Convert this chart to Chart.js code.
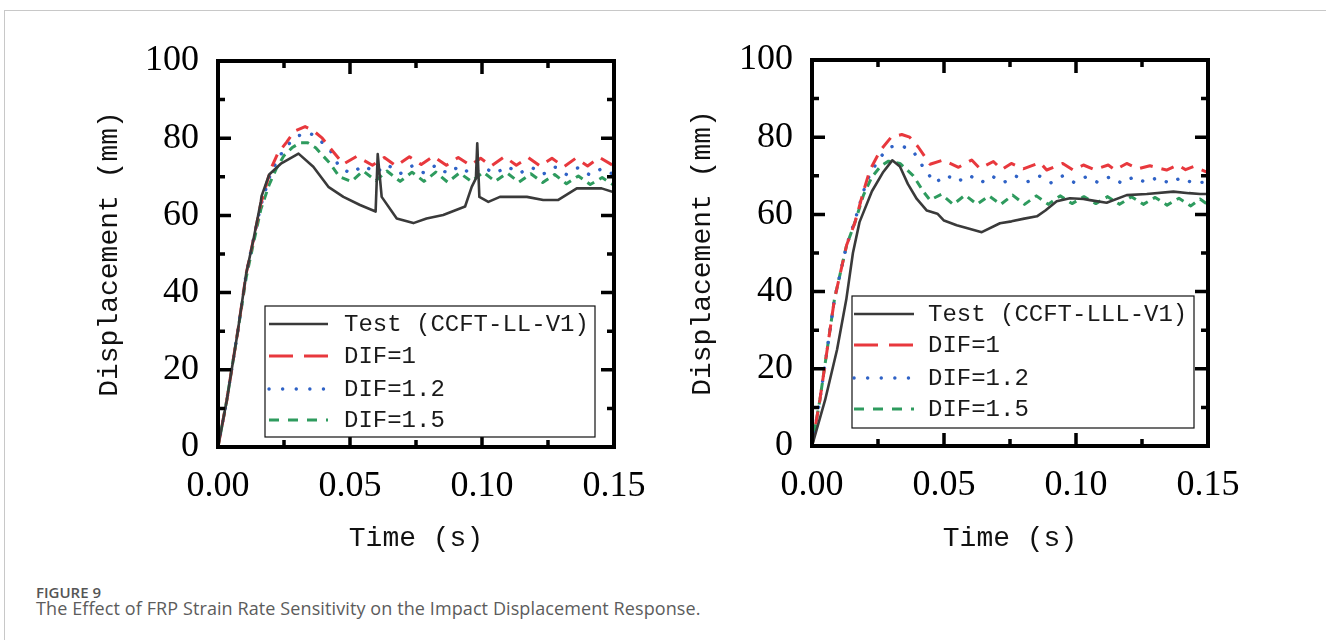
<!DOCTYPE html>
<html><head><meta charset="utf-8">
<script src="https://cdn.jsdelivr.net/npm/chart.js@4.4.1/dist/chart.umd.min.js"></script>
<style>
html,body{margin:0;padding:0;background:#fff;width:1326px;height:640px;overflow:hidden;position:relative;}
#frame{position:absolute;left:4px;top:10px;width:1340px;height:660px;border-top:1px solid #c8c8c8;border-left:1px solid #c8c8c8;}
.wrap{position:absolute;top:0;width:663px;height:580px;}
#capA{position:absolute;left:36px;top:582px;font:600 15px "Open Sans";color:#555;white-space:nowrap;}
#capB{position:absolute;left:36px;top:596px;font:400 18px "Open Sans";color:#5c5c5c;white-space:nowrap;letter-spacing:0.1px;}
</style></head>
<body>
<div id="frame"></div>
<div class="wrap" style="left:0"><canvas id="cL" width="663" height="580"></canvas></div>
<div class="wrap" style="left:663px"><canvas id="cR" width="663" height="580"></canvas></div>
<div id="capA">FIGURE 9</div>
<div id="capB">The Effect of FRP Strain Rate Sensitivity on the Impact Displacement Response.</div>
<script>
// ---------- tick labels ----------
const timeTicks = [0, 0.05, 0.10, 0.15];
const timeMinor = [0.025, 0.075, 0.125];
const dispTicks = [0, 20, 40, 60, 80, 100];
const dispMinor = [10, 30, 50, 70, 90];
const xTitle = 'Time (s)';
const yTitle = 'Displacement (mm)';
const seriesNamesL = ['Test (CCFT-LL-V1)', 'DIF=1', 'DIF=1.2', 'DIF=1.5'];
const seriesNamesR = ['Test (CCFT-LLL-V1)', 'DIF=1', 'DIF=1.2', 'DIF=1.5'];

// ---------- left panel data ----------
const testL_t = [0, 0.0033, 0.0075, 0.0107, 0.0135, 0.0162, 0.0165, 0.0194, 0.024, 0.0305, 0.0361, 0.0418, 0.0475, 0.0538, 0.0597, 0.0605, 0.062, 0.0677, 0.074, 0.079, 0.0853, 0.0936, 0.0961, 0.0977, 0.0982, 0.099, 0.1024, 0.1068, 0.117, 0.1232, 0.1289, 0.1359, 0.1453, 0.15];
const testL_d = [0, 12, 30, 45, 54, 63.5, 65, 70.6, 73.5, 76, 72.6, 67.4, 64.8, 62.7, 61, 75.9, 64.8, 59.2, 58, 59.2, 60.1, 62.3, 67.4, 69.6, 78.7, 64.8, 63.5, 64.8, 64.8, 64, 64, 67, 67, 66];

const dif1L_t = [0, 0.0033, 0.0075, 0.0107, 0.0135, 0.0162, 0.02, 0.0226, 0.026, 0.029, 0.033, 0.036, 0.0395, 0.0424, 0.0475, 0.0525, 0.0585, 0.063, 0.0675, 0.0725, 0.077, 0.0815, 0.0865, 0.091, 0.0955, 0.0995, 0.1035, 0.1085, 0.113, 0.1175, 0.122, 0.1265, 0.131, 0.1355, 0.14, 0.1445, 0.15];
const dif1L_d = [0, 12, 30, 45, 54, 63, 72, 76, 79, 81.8, 83, 82, 80, 77.5, 73.3, 75.3, 73.0, 75.0, 72.8, 75.2, 73.2, 75.3, 73.0, 75.0, 73.0, 74.8, 72.8, 75.2, 73.0, 75.0, 72.8, 74.8, 72.6, 74.8, 72.8, 75.0, 72.8];

const dif12L_t = [0, 0.0033, 0.0075, 0.0107, 0.0135, 0.0162, 0.02, 0.023, 0.026, 0.03, 0.034, 0.037, 0.0424, 0.046, 0.0505, 0.055, 0.0598, 0.064, 0.069, 0.0735, 0.078, 0.0825, 0.087, 0.0915, 0.096, 0.1005, 0.105, 0.1095, 0.114, 0.1185, 0.123, 0.1275, 0.132, 0.1365, 0.141, 0.1455, 0.15];
const dif12L_d = [0, 12, 30, 45, 54, 62.5, 71, 75, 78, 80.5, 81.5, 80.5, 77, 72.5, 70.8, 73.0, 71.0, 73.2, 70.8, 72.8, 71.0, 73.0, 70.8, 72.8, 70.6, 72.5, 70.8, 72.8, 70.8, 72.6, 70.6, 72.6, 70.6, 72.4, 70.4, 72.2, 70.5];

const dif15L_t = [0, 0.0033, 0.0075, 0.0107, 0.0135, 0.0162, 0.0194, 0.022, 0.025, 0.028, 0.031, 0.034, 0.037, 0.0424, 0.046, 0.0505, 0.055, 0.0598, 0.064, 0.069, 0.0735, 0.078, 0.0825, 0.087, 0.0915, 0.096, 0.1005, 0.105, 0.1095, 0.114, 0.1185, 0.123, 0.1275, 0.132, 0.1365, 0.141, 0.1455, 0.15];
const dif15L_d = [0, 12, 30, 44, 53, 61.5, 68, 72, 75.5, 77.5, 78.8, 78.8, 77.5, 73.5, 70, 68.8, 71.5, 69, 71.5, 68.8, 71.2, 68.8, 71.2, 68.6, 71, 68.8, 71.2, 68.8, 71, 68.6, 70.8, 68.5, 70.6, 68.2, 70.2, 68, 69.8, 67.8];

// ---------- right panel data ----------
const testR_t = [0, 0.005, 0.0095, 0.013, 0.0155, 0.018, 0.0227, 0.027, 0.0304, 0.0333, 0.0363, 0.0397, 0.0435, 0.0475, 0.05, 0.0548, 0.0596, 0.0643, 0.0712, 0.0756, 0.0804, 0.0852, 0.0884, 0.0927, 0.0977, 0.1028, 0.1053, 0.1116, 0.1192, 0.1268, 0.1369, 0.1428, 0.147, 0.15];
const testR_d = [0, 12, 25, 38, 50, 58, 66, 71, 74, 72.4, 67.9, 64, 61, 60.2, 58.4, 57.2, 56.3, 55.4, 57.7, 58.2, 58.9, 59.5, 61, 63.4, 64.2, 64, 63.7, 63, 65, 65.3, 65.9, 65.5, 65.3, 65.3];

const dif1R_t = [0, 0.003, 0.0085, 0.0131, 0.0163, 0.0195, 0.0219, 0.0259, 0.03, 0.034, 0.037, 0.0403, 0.0447, 0.0497, 0.0555, 0.0605, 0.0636, 0.0687, 0.0719, 0.0755, 0.08, 0.0864, 0.0889, 0.095, 0.0989, 0.1028, 0.107, 0.1122, 0.1148, 0.1192, 0.1235, 0.128, 0.1343, 0.1385, 0.1415, 0.1445, 0.15];
const dif1R_d = [0, 12, 38, 52, 58, 66, 71.4, 76.6, 80, 80.7, 80, 77.4, 73, 74.1, 72.2, 74.1, 71.9, 73.7, 71.6, 73.2, 71.8, 73.4, 71.5, 73.2, 71.5, 72.8, 71.6, 72.8, 71.5, 73.2, 71.8, 72.6, 71.5, 72.8, 71.6, 72.4, 70.8];

const dif12R_t = [0, 0.003, 0.0085, 0.0131, 0.0163, 0.0195, 0.022, 0.026, 0.03, 0.0333, 0.0384, 0.0428, 0.0466, 0.051, 0.055, 0.0595, 0.064, 0.068, 0.0725, 0.077, 0.0815, 0.086, 0.0905, 0.095, 0.0995, 0.104, 0.1085, 0.113, 0.1175, 0.122, 0.1265, 0.131, 0.1355, 0.14, 0.1445, 0.15];
const dif12R_d = [0, 12, 38, 52, 58.5, 66, 70.5, 75, 77.5, 78, 76.3, 71.5, 68.2, 70.2, 68.4, 70.2, 68.2, 70, 68.2, 70, 68.4, 70, 68.2, 70, 68.2, 69.8, 68.2, 69.8, 68, 69.8, 68.2, 69.6, 68, 69.6, 68, 68.5];

const dif15R_t = [0, 0.003, 0.0085, 0.0131, 0.0163, 0.0195, 0.0227, 0.026, 0.029, 0.0333, 0.0384, 0.0422, 0.0447, 0.049, 0.0535, 0.058, 0.0625, 0.067, 0.0715, 0.076, 0.0805, 0.085, 0.0895, 0.094, 0.0985, 0.103, 0.1075, 0.112, 0.1165, 0.121, 0.1255, 0.13, 0.1345, 0.139, 0.1435, 0.147, 0.15];
const dif15R_d = [0, 12, 38, 52, 58, 65, 69.7, 72.5, 73.8, 73.2, 70, 65.9, 63.7, 65.2, 62.6, 65, 62.6, 64.8, 62.6, 65, 62.6, 64.8, 62.6, 64.8, 62.8, 64.6, 62.8, 64.6, 62.6, 64.6, 62.6, 64.4, 62.4, 64.2, 62.2, 64, 62.5];

// ---------- styles ----------
const colors = ['#3a3a3a', '#e8383d', '#2f62c6', '#2e9b5e'];
const widths = [2.6, 3, 3.4, 3];
const dashes = [[], [13, 9], [0.1, 13], [8, 6]];
const legendDashes = [[], [24, 11], [0.1, 13.5], [10, 9]];
const caps = ['butt', 'butt', 'round', 'butt'];

function pts(t, d) { return t.map((v, i) => ({x: v, y: d[i]})); }

const framePlugin = {
  id: 'frameTicks',
  afterDatasetsDraw(chart) {
    const {ctx, chartArea: a, scales: {x, y}} = chart;
    ctx.save();
    ctx.strokeStyle = '#000';
    ctx.lineCap = 'butt';
    ctx.lineWidth = 3.5;
    const tickX = (v, len) => {
      const px = x.getPixelForValue(v);
      ctx.beginPath(); ctx.moveTo(px, a.bottom); ctx.lineTo(px, a.bottom - len);
      ctx.moveTo(px, a.top); ctx.lineTo(px, a.top + len); ctx.stroke();
    };
    const tickY = (v, len) => {
      const py = y.getPixelForValue(v);
      ctx.beginPath(); ctx.moveTo(a.left, py); ctx.lineTo(a.left + len, py);
      ctx.moveTo(a.right, py); ctx.lineTo(a.right - len, py); ctx.stroke();
    };
    timeTicks.forEach(v => tickX(v, 13));
    timeMinor.forEach(v => tickX(v, 7));
    dispTicks.forEach(v => tickY(v, 13));
    dispMinor.forEach(v => tickY(v, 7));
    ctx.lineWidth = 4;
    ctx.strokeRect(a.left, a.top, a.right - a.left, a.bottom - a.top);
    ctx.restore();
  },
  afterDraw(chart, args, opts) {
    const {ctx, chartArea: a} = chart;
    const L = opts;
    if (!L || !L.box) return;
    ctx.save();
    const bx = a.left + L.box[0], by = a.top + L.box[1];
    ctx.fillStyle = '#fff';
    ctx.fillRect(bx, by, L.box[2], L.box[3]);
    ctx.strokeStyle = '#111';
    ctx.lineWidth = 1.2;
    ctx.strokeRect(bx, by, L.box[2], L.box[3]);
    chart.data.datasets.forEach((ds, i) => {
      const yy = a.top + L.rows[i];
      ctx.strokeStyle = ds.borderColor;
      ctx.lineWidth = ds.borderWidth;
      ctx.lineCap = ds.borderCapStyle;
      ctx.setLineDash(legendDashes[i]);
      ctx.beginPath();
      ctx.moveTo(a.left + L.sample[0], yy);
      ctx.lineTo(a.left + L.sample[1], yy);
      ctx.stroke();
      ctx.setLineDash([]);
      ctx.fillStyle = '#1a1a1a';
      ctx.font = '24px "Liberation Mono"';
      ctx.textBaseline = 'middle';
      ctx.textAlign = 'left';
      ctx.fillText(ds.label, a.left + L.textX, yy + 1);
    });
    ctx.restore();
  }
};

function makeChart(id, names, series, geo) {
  const datasets = series.map((s, i) => ({
    label: names[i],
    data: pts(s[0], s[1]),
    borderColor: colors[i],
    backgroundColor: colors[i],
    borderWidth: widths[i],
    borderDash: dashes[i],
    borderCapStyle: caps[i],
    borderJoinStyle: 'round',
    pointRadius: 0,
    tension: 0,
    fill: false
  }));
  return new Chart(document.getElementById(id), {
    type: 'line',
    data: {datasets},
    plugins: [framePlugin],
    options: {
      responsive: false,
      animation: false,
      events: [],
      layout: {padding: {top: geo.top, right: geo.right, left: 0, bottom: 0}},
      plugins: {
        legend: {display: false},
        tooltip: {enabled: false},
        frameTicks: geo.legend
      },
      scales: {
        x: {
          type: 'linear', min: 0, max: 0.15,
          grid: {display: false}, border: {display: false},
          afterBuildTicks: s => { s.ticks = timeTicks.map(v => ({value: v})); },
          afterFit: s => { s.height = geo.xh; s.paddingLeft = 0; s.paddingRight = 0; },
          ticks: {
            padding: 10, color: '#000', maxRotation: 0, autoSkip: false,
            font: {family: '"Liberation Serif"', size: 36},
            callback: v => Number(v).toFixed(2)
          },
          title: {
            display: true, text: xTitle, color: '#111',
            font: {family: '"Liberation Mono"', size: 28},
            padding: {top: 0, bottom: 25}
          }
        },
        y: {
          type: 'linear', min: 0, max: 100,
          grid: {display: false}, border: {display: false},
          afterBuildTicks: s => { s.ticks = dispTicks.map(v => ({value: v})); },
          afterFit: s => { s.width = geo.yw; s.paddingTop = 0; s.paddingBottom = 0; },
          ticks: {
            padding: 11, color: '#000', autoSkip: false,
            font: {family: '"Liberation Serif"', size: 36},
            callback: v => String(v)
          },
          title: {
            display: true, text: yTitle, color: '#111',
            font: {family: '"Liberation Mono"', size: 28},
            padding: {top: geo.ytp, bottom: 0}
          }
        }
      }
    }
  });
}

makeChart('cL', seriesNamesL,
  [[testL_t, testL_d], [dif1L_t, dif1L_d], [dif12L_t, dif12L_d], [dif15L_t, dif15L_d]],
  {top: 61, right: 49, xh: 133, yw: 218, ytp: 93,
   legend: {box: [47, 245, 330, 131], sample: [51, 110], textX: 126, rows: [263, 295, 328, 359]}});

makeChart('cR', seriesNamesR,
  [[testR_t, testR_d], [dif1R_t, dif1R_d], [dif12R_t, dif12R_d], [dif15R_t, dif15R_d]],
  {top: 60, right: 118, xh: 134, yw: 149, ytp: 23,
   legend: {box: [40, 236, 342, 132], sample: [42, 102], textX: 116, rows: [254, 285, 318, 349]}});
</script>
</body></html>
